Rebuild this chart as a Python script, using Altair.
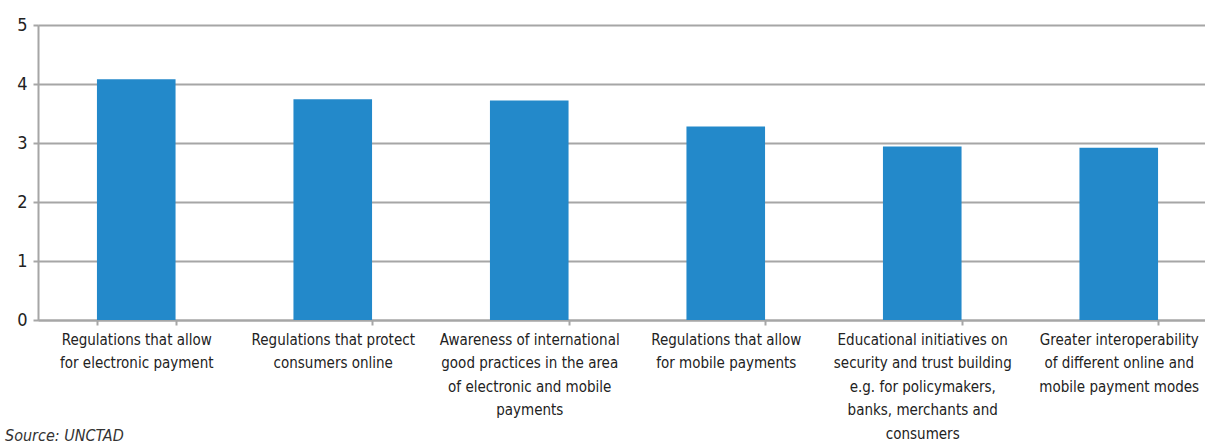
import altair as alt
import pandas as pd

categories = [
    "Regulations that allow|for electronic payment",
    "Regulations that protect|consumers online",
    "Awareness of international|good practices in the area|of electronic and mobile|payments",
    "Regulations that allow|for mobile payments",
    "Educational initiatives on|security and trust building|e.g. for policymakers,|banks, merchants and|consumers",
    "Greater interoperability|of different online and|mobile payment modes",
]
values = [4.08, 3.74, 3.72, 3.28, 2.94, 2.92]
y_ticks = [0, 1, 2, 3, 4, 5]
source_text = ["Source: UNCTAD"]

df = pd.DataFrame({"cat": categories, "val": values})

FONT = "DejaVu Sans Condensed, Liberation Sans, sans-serif"
GRID = "#a6a6a6"

bars = alt.Chart(df).mark_bar(color="#2389CA").encode(
    x=alt.X(
        "cat:N",
        sort=categories,
        scale=alt.Scale(range=[0, 1179], paddingInner=0.6, paddingOuter=0.3),
        axis=alt.Axis(
            title=None,
            labelAngle=0,
            labelExpr="split(datum.label, '|')",
            labelFont=FONT,
            labelFontSize=15,
            labelColor="#222222",
            labelLineHeight=23.5,
            labelPadding=7,
            labelLimit=300,
            tickBand="extent",
            tickSize=5,
            tickColor=GRID,
            tickWidth=2,
            domainColor=GRID,
            domainWidth=2,
            grid=False,
        ),
    ),
    y=alt.Y(
        "val:Q",
        scale=alt.Scale(domain=[0, 5], nice=False),
        axis=alt.Axis(
            title=None,
            values=y_ticks,
            labelFont=FONT,
            labelFontSize=18,
            labelColor="#222222",
            labelPadding=6,
            tickSize=5,
            tickColor=GRID,
            tickWidth=2,
            domainColor=GRID,
            domainWidth=2,
            gridColor=GRID,
            gridWidth=2,
        ),
    ),
)

src = alt.Chart(pd.DataFrame({"t": source_text})).mark_text(
    align="left", baseline="alphabetic", font=FONT, fontSize=16,
    fontStyle="italic", color="#333333"
).encode(text="t:N", x=alt.value(-33), y=alt.value(416))

chart = alt.layer(bars, src).properties(
    width=1167, height=295,
    autosize=alt.AutoSizeParams(type="none"),
    padding={"left": 38, "top": 25, "right": 0, "bottom": 126},
).configure_view(stroke=None).configure(background="white")

chart.save("out.html", embed_options={"renderer": "svg", "actions": False})
